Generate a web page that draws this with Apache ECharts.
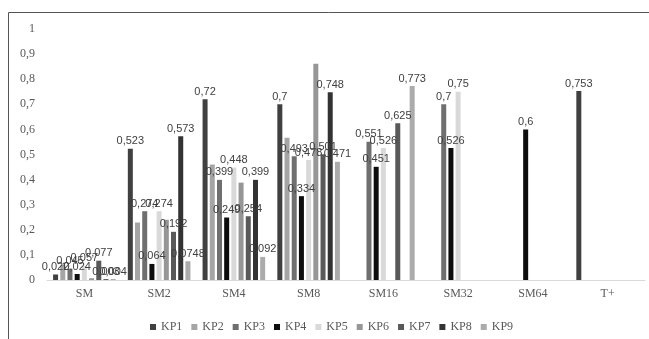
<!DOCTYPE html>
<html>
<head>
<meta charset="utf-8">
<script src="https://cdn.jsdelivr.net/npm/echarts@6/dist/echarts.min.js"></script>
<style>
  html, body { margin: 0; padding: 0; background: #ffffff; }
  #chart { width: 649px; height: 339px; }
</style>
</head>
<body>
<div id="chart"></div>
<script>
// Categories along the x axis
const categories = ['SM', 'SM2', 'SM4', 'SM8', 'SM16', 'SM32', 'SM64', 'T+'];

// Values per series (null = no bar in that group)
const KP1 = [0.022, 0.523, 0.72, 0.7, null, null, null, 0.753];
const KP2 = [0.06, 0.229, 0.46, 0.567, null, null, null, null];
const KP3 = [0.045, 0.274, 0.399, 0.493, 0.551, 0.7, null, null];
const KP4 = [0.024, 0.064, 0.249, 0.334, 0.451, 0.526, 0.6, null];
const KP5 = [0.057, 0.274, 0.448, 0.478, 0.526, 0.75, null, null];
const KP6 = [0.007, 0.24, 0.388, 0.862, null, null, null, null];
const KP7 = [0.077, 0.192, 0.254, 0.501, 0.625, null, null, null];
const KP8 = [0.003, 0.573, 0.399, 0.748, null, null, null, null];
const KP9 = [0.004, 0.0748, 0.092, 0.471, 0.773, null, null, null];

const seriesNames = ['KP1', 'KP2', 'KP3', 'KP4', 'KP5', 'KP6', 'KP7', 'KP8', 'KP9'];
const seriesValues = [KP1, KP2, KP3, KP4, KP5, KP6, KP7, KP8, KP9];
const seriesColors = ['#404040', '#a5a5a5', '#6f6f6f', '#0d0d0d', '#d9d9d9',
                      '#969696', '#595959', '#333333', '#ababab'];
// KP2 and KP6 carry no value labels
const showLabel = [true, false, true, true, true, false, true, true, true];

const comma = v => String(v).replace('.', ',');

const series = seriesNames.map((name, i) => ({
  name: name,
  type: 'bar',
  data: seriesValues[i],
  barWidth: 5,
  barGap: '44%',
  itemStyle: { color: seriesColors[i] },
  label: {
    show: showLabel[i],
    position: 'top',
    distance: 2,
    formatter: p => comma(p.value),
    color: '#404040',
    fontFamily: 'Liberation Sans',
    fontSize: 11
  },
  labelLayout: { hideOverlap: false },
  animation: false
}));

const chart = echarts.init(document.getElementById('chart'), null, { renderer: 'canvas' });
chart.setOption({
  animation: false,
  backgroundColor: '#ffffff',
  grid: { left: 47, right: 4, top: 29, bottom: 59, containLabel: false },
  xAxis: {
    type: 'category',
    data: categories,
    axisLine: { lineStyle: { color: '#d9d9d9' } },
    axisTick: { show: false },
    axisLabel: {
      color: '#595959',
      fontFamily: 'Liberation Serif',
      fontSize: 12,
      margin: 8
    }
  },
  yAxis: {
    type: 'value',
    min: 0,
    max: 1,
    interval: 0.1,
    splitLine: { show: false },
    axisLine: { show: false },
    axisTick: { show: false },
    axisLabel: {
      color: '#595959',
      fontFamily: 'Liberation Serif',
      fontSize: 12,
      margin: 12,
      formatter: v => comma(Math.round(v * 10) / 10)
    }
  },
  legend: {
    data: seriesNames,
    top: 316,
    left: 145,
    icon: 'rect',
    itemWidth: 6,
    itemHeight: 6,
    itemGap: 9,
    textStyle: {
      color: '#595959',
      fontFamily: 'Liberation Serif',
      fontSize: 12
    }
  },
  graphic: [{
    type: 'polyline',
    shape: { points: [[8.5, 339], [8.5, 12.5], [649, 12.5]] },
    style: { stroke: '#555555', lineWidth: 1, fill: null },
    silent: true
  }],
  series: series
});
</script>
</body>
</html>
